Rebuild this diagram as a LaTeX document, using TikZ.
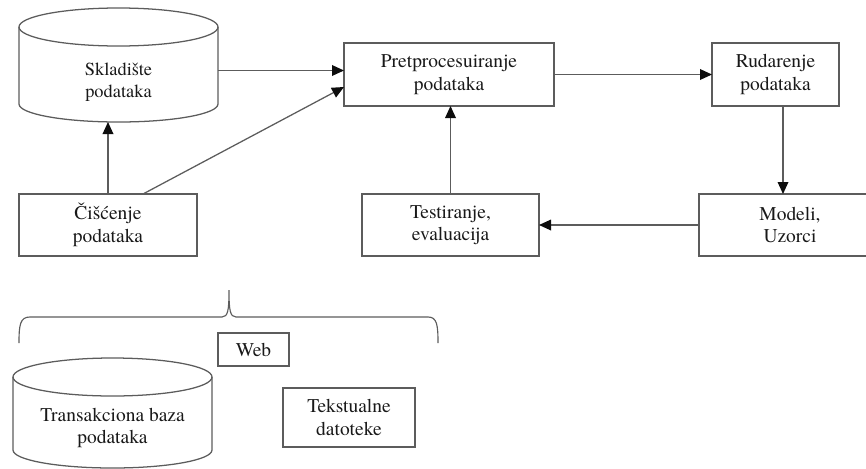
\documentclass[tikz,border=0pt]{standalone}
\usepackage{fontspec}
\setmainfont{TeX Gyre Termes}
\usetikzlibrary{arrows.meta,calc}

\definecolor{linegray}{gray}{0.36}
\definecolor{tipblack}{gray}{0.05}
\definecolor{inkgray}{gray}{0.1}

\tikzset{
  every node/.style={text=inkgray},
  lbl/.style={font=\rmfamily\fontsize{14.6}{16.8}\selectfont, align=center, inner sep=0pt, outer sep=0pt},
  stepbox/.style={lbl, draw=linegray, line width=0.95pt},
  shapeline/.style={draw=linegray, line width=0.95pt},
  arr/.style={draw=linegray, line width=0.95pt, -{Triangle[length=9pt,width=8pt,color=tipblack]}},
  conn/.style={draw=linegray, line width=0.85pt}
}

\begin{document}
\begin{tikzpicture}[x=0.75pt, y=-0.75pt]
  \useasboundingbox (0,0) rectangle (866,468);
  \clip (0,0) rectangle (866,468);

  % process boxes
  \node[stepbox, minimum width=157.5pt, minimum height=47.25pt] (pre) at (449,74.5) {Pretprocesuiranje\\podataka};
  \node[stepbox, minimum width=95.25pt, minimum height=47.25pt] (rud) at (775.5,74.5) {Rudarenje\\podataka};
  \node[stepbox, minimum width=133.5pt, minimum height=46.5pt] (cis) at (108,225) {Čišćenje\\podataka};
  \node[stepbox, minimum width=132.75pt, minimum height=46.5pt] (test) at (450.5,225) {Testiranje,\\evaluacija};
  \node[stepbox, minimum width=136.5pt, minimum height=46.5pt] (mod) at (790,225) {Modeli,\\Uzorci};

  % data warehouse cylinder
  \node[lbl, font=\rmfamily\fontsize{13.8}{16.2}\selectfont] (sklad) at (118.5,82) {Skladište\\podataka};
  \draw[shapeline] (118.5,27) ellipse [x radius=99.5, y radius=19];
  \draw[shapeline] (19,27) -- (19,104) arc[start angle=180, end angle=0, x radius=99.5, y radius=18] -- (218,27);
  \coordinate (skE) at ($(sklad)+(99.5,-11.5)$);
  \coordinate (skS) at ($(sklad)+(0,40)$);

  % data sources
  \node[stepbox, minimum width=53.25pt, minimum height=24.75pt] (web) at (253.5,349.5) {Web};
  \node[stepbox, minimum width=99pt, minimum height=44.25pt] (tek) at (349,417.5) {Tekstualne\\datoteke};

  % transactional database cylinder
  \node[lbl] (trans) at (112.5,428) {Transakciona baza\\podataka};
  \draw[shapeline] (112.5,377) ellipse [x radius=99.5, y radius=19];
  \draw[shapeline] (13,377) -- (13,450) arc[start angle=180, end angle=0, x radius=99.5, y radius=18] -- (212,377);

  % brace grouping the sources
  \draw[conn] (19,343) .. controls (19,325) and (20,317) .. (30,317) -- (222,317)
    .. controls (228,317) and (229,310) .. (229,290)
    .. controls (229,310) and (230,317) .. (236,317) -- (428,317)
    .. controls (437,317) and (438,325) .. (438,343);

  % flow arrows
  \draw[arr] (skE) -- (skE -| pre.west);
  \draw[arr] (cis.north) -- (cis.north |- skS);
  \draw[arr] ($(cis.north)+(35,0)$) -- ($(pre.west)+(0,12.5)$);
  \draw[arr] (pre.east) -- (rud.west);
  \draw[arr] ($(mod.north -| rud.south)+(7.5,-88)$) -- ($(mod.north)+(-7,0)$);
  \draw[arr] (mod.west) -- (test.east);
  \draw[arr] (test.north) -- (test.north |- pre.south);
\end{tikzpicture}
\end{document}
